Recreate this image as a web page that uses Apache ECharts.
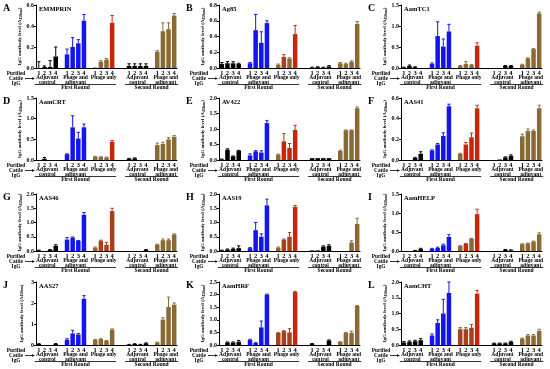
<!DOCTYPE html>
<html><head><meta charset="utf-8">
<script src="https://cdn.jsdelivr.net/npm/echarts@6/dist/echarts.min.js"></script>
<style>html,body{margin:0;padding:0;background:#fff}#c{width:550px;height:369px}</style>
</head><body><div id="c"></div>
<script>
// ---------- DATA ----------
const panelLetters = ['A','B','C','D','E','F','G','H','I','J','K','L'];
const panelTitles = ['EMMPRIN','Ag85','AamTC1','AamCRT','AV422','AAS41','AAS46','AAS19','AamHELP','AAS27','AamHRF','AamCHT'];
const yMaxes = [0.6,0.8,1.5,1.5,2.0,0.6,2.0,2.0,1.5,3,2.5,2.0];
const yIntervals = [0.2,0.2,0.5,0.5,0.5,0.2,0.5,0.5,0.5,1,0.5,0.5];
const yDecimals = [1,1,1,1,1,1,1,1,1,0,1,1];
const tickLabels = ['1','2','3','4'];
const groupNames = ['Adjuvant\ncontrol','Phage and\nadjuvant','Phage only','Adjuvant\ncontrol','Phage and\nadjuvant'];
const roundNames = ['First Round','Second Round'];
const yAxisTitle = 'IgG antibody level (A';
const yAxisSub = '450nm';
const sideLabel = 'Purified\nCattle\nIgG';

// values: 5 groups x 4 (Adj ctrl R1, Phage+adj R1, Phage only R1, Adj ctrl R2, Phage+adj R2)
const valsA = [0.0,0.01,0.01,0.11, 0.13,0.20,0.235,0.45, 0.005,0.06,0.08,0.43, 0.02,0.02,0.02,0.02, 0.155,0.35,0.37,0.50];
const errA  = [0.06,0.01,0.06,0.09, 0.05,0.09,0.035,0.06, 0,0.01,0.01,0.07, 0.02,0.02,0.02,0.02, 0.01,0.08,0.06,0.02];
const valsB = [0.05,0.06,0.06,0.05, 0.06,0.48,0.32,0.57, 0.04,0.14,0.12,0.43, 0.005,0.01,0.005,0.02, 0.06,0.05,0.08,0.56];
const errB  = [0.02,0.02,0.02,0.01, 0.01,0.2,0.14,0.03, 0.01,0.03,0.01,0.11, 0.005,0.005,0.005,0.01, 0.01,0.01,0.01,0.03];
const valsC = [0.01,0.05,0.02,0.0, 0.1,0.76,0.51,0.87, 0.05,0.1,0.07,0.53, 0.0,0.0,0.05,0.05, 0.08,0.23,0.45,1.3];
const errC  = [0.01,0.02,0.01,0, 0.02,0.34,0.18,0.17, 0.01,0.05,0.01,0.07, 0,0,0.01,0.01, 0.01,0.01,0.01,0.03];
const valsD = [0.0,0.03,0.0,0.0, 0.14,0.79,0.52,0.79, 0.08,0.07,0.06,0.44, 0.03,0.04,0.0,0.0, 0.36,0.39,0.5,0.56];
const errD  = [0,0.03,0,0, 0.01,0.28,0.15,0.08, 0.01,0.01,0.01,0.03, 0.01,0.01,0,0, 0.05,0.04,0.04,0.03];
const valsE = [0.02,0.33,0.12,0.3, 0.15,0.28,0.24,1.19, 0.17,0.6,0.39,0.97, 0.06,0.06,0.06,0.06, 0.29,0.96,0.96,1.67];
const errE  = [0.01,0.03,0.01,0.01, 0.05,0.02,0.06,0.08, 0.02,0.25,0.14,0.15, 0,0,0,0, 0.03,0.01,0.01,0.04];
const valsF = [0,0,0.02,0.06, 0.093,0.15,0.233,0.52, 0.06,0.15,0.22,0.5, 0,0.005,0.025,0.04, 0.23,0.28,0.28,0.5];
const errF  = [0,0,0.005,0.02, 0.005,0.01,0.03,0.02, 0.005,0.02,0.04,0.03, 0,0,0.005,0.01, 0.02,0.02,0.01,0.03];
const valsG = [0.02,0.0,0.04,0.18, 0.4,0.47,0.36,1.27, 0.12,0.36,0.22,1.4, 0,0,0,0.04, 0.22,0.38,0.38,0.58];
const errG  = [0.01,0,0.01,0.04, 0.07,0.02,0.01,0.08, 0.02,0.02,0.08,0.1, 0,0,0,0.01, 0.02,0.04,0.04,0.02];
const valsH = [0.02,0.05,0.07,0.1, 0.1,0.73,0.5,1.6, 0.12,0.4,0.5,1.55, 0.02,0.02,0.15,0.18, 0,0,0.3,0.95];
const errH  = [0.01,0.02,0.03,0.08, 0.02,0.27,0.1,0.22, 0.02,0.02,0.15,0.05, 0,0,0.03,0.04, 0,0,0.06,0.2];
const valsI = [0,0,0.01,0.05, 0.06,0.08,0.15,0.37, 0.13,0.19,0.32,0.97, 0,0,0.03,0.02, 0.18,0.2,0.25,0.44];
const errI  = [0,0,0.005,0.02, 0.01,0.02,0.03,0.06, 0.01,0.01,0.01,0.13, 0,0,0.01,0.01, 0.01,0.01,0.01,0.04];
const valsJ = [0.05,0,0,0.05, 0.25,0.55,0.5,2.2, 0.25,0.28,0.2,0.73, 0.02,0.05,0.02,0.08, 0.12,1.21,1.81,1.92];
const errJ  = [0.01,0,0,0.02, 0.05,0.15,0.05,0.15, 0.02,0.02,0.01,0.04, 0.01,0.01,0.01,0.02, 0.02,0.09,0.47,0.08];
const valsK = [0,0.1,0.1,0.13, 0.2,0.08,0.7,2.0, 0.48,0.55,0.5,2.1, 0.05,0,0,0.18, 0.12,0.48,0.48,1.55];
const errK  = [0,0.02,0.02,0.05, 0.03,0.01,0.25,0.02, 0.01,0.02,0.15,0.03, 0.01,0,0,0.02, 0.01,0.02,0.07,0.02];
const valsL = [0.08,0.1,0.12,0.15, 0.3,0.7,1.0,1.65, 0.5,0.5,0.55,1.63, 0.05,0.05,0.05,0.1, 0.2,0.3,0.3,0.45];
const errL  = [0.03,0.03,0.03,0.05, 0.05,0.1,0.45,0.35, 0.05,0.05,0.1,0.1, 0.01,0.01,0.01,0.02, 0.02,0.03,0.03,0.05];
// tone of the four "Phage only" bars per panel: b brown, m brown-red, r red
const phageTones = [
  ['b','b','b','r'],['b','m','b','r'],['b','b','b','r'],['b','b','b','r'],
  ['b','r','r','r'],['b','r','r','r'],['b','m','m','m'],['b','m','m','r'],
  ['b','r','b','r'],['b','b','b','b'],['m','m','m','r'],['m','m','m','r']
];

// ---------- LAYOUT / STYLE ----------
const panelVals = [valsA,valsB,valsC,valsD,valsE,valsF,valsG,valsH,valsI,valsJ,valsK,valsL];
const panelErr = [errA,errB,errC,errD,errE,errF,errG,errH,errI,errJ,errK,errL];
const FONT = "'Liberation Serif','Times New Roman',serif";
const COL = {k:'#000000', u:'#1414f0', b:'#8a6a34', m:'#a8401c', r:'#c8260c'};
const groupTone = ['k','u','p','k','b'];
const colX = [0,183,365];
const rowZero = [68,160,251,345];
const rowH = [63,62,57,63];
const groupStart = [0,5,10,16,21];
const NS = 25;
const categories = new Array(NS).fill('');
groupStart.forEach(g => tickLabels.forEach((t,i) => { categories[g+i] = t; }));

const grids=[], xAxes=[], yAxes=[], series=[];
panelVals.forEach((vals,i)=>{
  const c = i%3, r = Math.floor(i/3);
  const left = colX[c]+36, top = rowZero[r]-rowH[r];
  grids.push({left:left, top:top, width:141, height:rowH[r], containLabel:false});
  xAxes.push({type:'category', gridIndex:i, data:categories, boundaryGap:true,
    axisLine:{lineStyle:{color:'#000',width:1}}, axisTick:{show:false},
    axisLabel:{interval:0, fontSize:6.5, fontFamily:FONT, fontWeight:'bold', color:'#000', margin:1.5}});
  const dec = yDecimals[i];
  yAxes.push({type:'value', gridIndex:i, min:0, max:yMaxes[i], interval:yIntervals[i],
    axisLine:{show:true, lineStyle:{color:'#000',width:1}},
    axisTick:{show:true, length:2, lineStyle:{color:'#000'}},
    splitLine:{show:false},
    axisLabel:{fontSize:6, fontFamily:FONT, fontWeight:'bold', color:'#000', margin:2,
      formatter:v=>v.toFixed(dec)},
    name:'{a|'+yAxisTitle+'}{s|'+yAxisSub+'}{a|)}', nameLocation:'middle', nameRotate:90, nameGap:12,
    nameTextStyle:{rich:{a:{fontSize:5,fontFamily:FONT,fontWeight:'bold',color:'#000'},
                         s:{fontSize:3.6,fontFamily:FONT,fontWeight:'bold',color:'#000',verticalAlign:'bottom'}}}
  });
  const barData = new Array(NS).fill('-');
  const errData = [], errCols = [];
  vals.forEach((v,k)=>{
    const g = Math.floor(k/4), j = k%4;
    const slot = groupStart[g]+j;
    const tone = groupTone[g]==='p' ? phageTones[i][j] : groupTone[g];
    const color = COL[tone];
    barData[slot] = {value:v, itemStyle:{color:color}};
    const e = panelErr[i][k];
    if (e>0){ errData.push([slot, v, v+e]); errCols.push(color); }
  });
  series.push({type:'bar', xAxisIndex:i, yAxisIndex:i, data:barData, barWidth:4.5, animation:false, silent:true});
  series.push({type:'custom', xAxisIndex:i, yAxisIndex:i, data:errData, animation:false, silent:true,
    encode:{x:0, y:[1,2]},
    renderItem:(params, api)=>{
      const x = api.value(0);
      const p1 = api.coord([x, api.value(1)]);
      const p2 = api.coord([x, api.value(2)]);
      const col = errCols[params.dataIndex];
      return {type:'group', children:[
        {type:'line', shape:{x1:p1[0],y1:p1[1],x2:p2[0],y2:p2[1]}, style:{stroke:col,lineWidth:1}},
        {type:'line', shape:{x1:p2[0]-1.6,y1:p2[1],x2:p2[0]+1.6,y2:p2[1]}, style:{stroke:col,lineWidth:1}}
      ]};
    }});
});

const chart = echarts.init(document.getElementById('c'), null, {renderer:'canvas'});
chart.setOption({animation:false, grid:grids, xAxis:xAxes, yAxis:yAxes, series:series});

// ---------- annotations ----------
const gfx = [];
const txt = (x,y,text,size,align,lh)=>gfx.push({type:'text', x:x, y:y, silent:true,
  style:{text:text, font:'bold '+size+'px '+FONT, fill:'#000', textAlign:align||'left', textVerticalAlign:'top', lineHeight:lh||size}});
panelVals.forEach((vals,i)=>{
  const c = i%3, r = Math.floor(i/3);
  const x0 = colX[c], zero = rowZero[r], top = zero-rowH[r];
  txt(x0+3, top-2, panelLetters[i], 10, 'left');
  txt(x0+39, top+1, panelTitles[i], 6.5, 'left');
  const px = s => chart.convertToPixel({xAxisIndex:i}, s);
  groupStart.forEach((g,gi)=>{
    const cx = (px(g+1)+px(g+2))/2;
    txt(cx, zero+7.5, groupNames[gi], 5.5, 'center', 4.6);
  });
  const rounds = [[0,13],[16,24]];
  rounds.forEach((rg,ri)=>{
    const xa = px(rg[0])-4, xb = px(rg[1])+4;
    gfx.push({type:'line', silent:true, shape:{x1:xa,y1:zero+16.5,x2:xb,y2:zero+16.5}, style:{stroke:'#000',lineWidth:0.8}});
    txt((xa+xb)/2, zero+17, roundNames[ri], 5.5, 'center');
  });
  txt(x0+16, zero+3, sideLabel, 5.3, 'center', 5.2);
  const ay = zero+10.5;
  gfx.push({type:'line', silent:true, shape:{x1:x0+25,y1:ay,x2:x0+33,y2:ay}, style:{stroke:'#000',lineWidth:0.8}});
  gfx.push({type:'polygon', silent:true, shape:{points:[[x0+35,ay],[x0+32,ay-1.3],[x0+32,ay+1.3]]}, style:{fill:'#000'}});
});
chart.setOption({graphic:gfx});
</script></body></html>
